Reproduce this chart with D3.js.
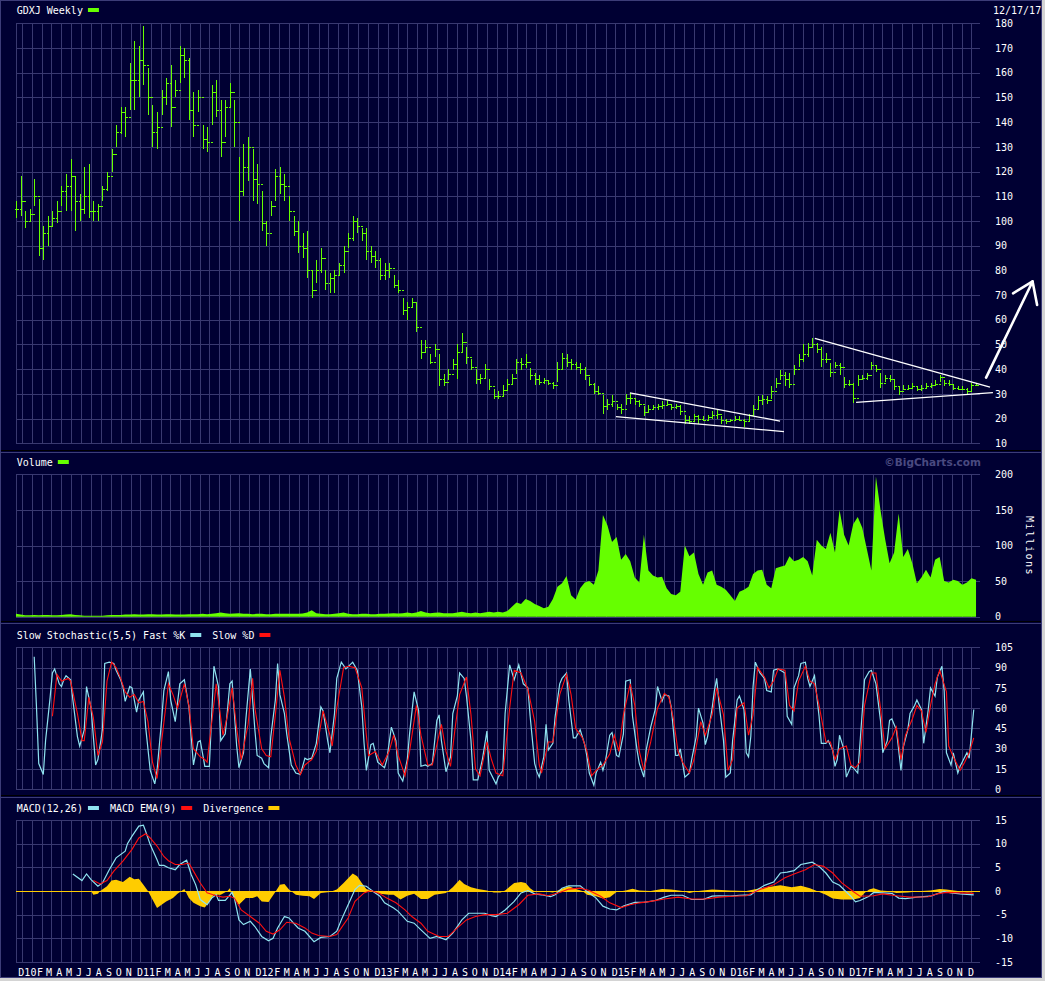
<!DOCTYPE html>
<html>
<head>
<meta charset="utf-8">
<script src="https://cdn.jsdelivr.net/npm/d3@7"></script>
<style>
  body { margin: 0; background: #d4d4d4; }
  svg { display: block; }
  text { font-family: "DejaVu Sans Mono", monospace; font-size: 10px; fill: #ffffff; }
</style>
</head>
<body>
<script>
// biweekly bars, starting week of 11/13/09
const priceHigh = [
  108,118,104,105,117,109,98,102,104,108,
  114,119,125,118,111,122,123,108,107,114,
  120,129,139,146,146,164,173,171,179,162,
  147,144,153,158,163,157,171,170,166,152,
  153,139,138,155,157,149,149,156,149,126,
  131,134,129,123,112,100,108,121,122,119,
  110,102,100,95,96,80,84,89,80,79,
  80,83,90,95,102,101,97,97,90,88,
  85,83,83,78,76,69,67,69,67,52,
  52,46,50,46,38,40,44,50,54.5,49,
  44,40,38,42,36,32,31,33.5,36,38,
  44,44.5,46,40.5,38.5,37.5,36.5,35.5,35,43,
  46.5,46,44,43,42.5,41,37,34.5,33,29.5,
  28,29.5,26,26,30,30.5,28,27.5,25,25.5,
  25.5,26,27,27.5,26,26,25.5,21.5,21,22,
  21.5,21,21.5,23,23.5,21,20,20,21,21,
  20,22,25.5,29,29.5,29,33,36.5,39.5,39,
  38.5,41.5,46,50,50.5,52.5,50.5,49,46.5,42.5,
  43,42.5,37,35.5,34.5,37.5,37.5,38.5,43,41.5,
  38.5,37.5,37.5,35.5,33,33.5,33.5,34.5,33,33.5,
  34.5,34.5,35.5,37.5,35.5,35.5,33.5,33,33,32.5,
  34.5,34.5
];
const priceLow = [
  101,102,97,100,106,86,84,90,98,99,
  106,104,104,96,100,103,101,100,100,108,
  112,120,130,135,134,145,145,150,155,143,
  130,129,143,147,138,150,156,158,141,134,
  144,129,128,139,142,126,134,146,130,100,
  110,116,108,107,96,90,102,108,111,108,
  100,94,87,85,77,69,75,79,72,71,
  71,78,79,89,92,95,92,84,83,81,
  76,76,77,73,71,62,60,65,55,44,
  47,42,45,33,33,35.5,39.5,36,47,42,
  39.5,34,34,36,31.5,28,28,29,31,34,
  38,39.5,40.5,35.5,33.5,33.5,34,33.5,32,35,
  39.5,41,39.5,39.5,38,35.5,33,30,29.5,22,
  23.5,24.5,23.5,22,25.5,26,25.5,24.5,21,22.5,
  23.5,23.5,24,25,23.5,24,21.5,18,18,19,
  18,19,19.5,20,20,18,18,19,19,19,
  16.7,19,21.5,24,25.5,26,28,32.5,35.5,33,
  32.5,37.5,41,43,45,48.5,46.5,41,42.5,37,
  40.5,37.5,32.5,33,26.5,33,35.5,35.5,39.5,39,
  32.5,35,35,31.5,29.5,31.5,31.5,32.5,31,31,
  32.5,32.5,33,35,33,33,31.5,31.5,31.5,30,
  31,33
];
const priceClose = [
  105,108,100,103,110,89,95,98,101,104,
  112,114,118,108,105,110,104,104,106,113,
  118,127,136,144,142,157,157,165,163,150,
  136,138,150,156,146,153,167,165,145,139,
  150,133,132,152,145,132,146,152,140,112,
  122,130,117,115,99,95,106,118,115,114,
  104,96,90,89,80,72,80,85,75,77,
  78,82,88,93,100,98,95,88,86,84,
  78,80,81,74,72,64,65,67,57,47,
  49,43,48,36,35,38,42,47,51,45,
  41,36,36.5,40,33,29,29,31.5,34,36.5,
  43,42,43,37.5,36,35,35.5,34.5,33.5,40,
  44.5,43,42,41,40,37.5,34,31,30.5,25,
  26,27,24.5,24,28.5,28.5,27,26,22.5,24,
  24.5,25,25.5,26,24.5,25,23,19.5,19,21,
  20,19.5,20.5,21.5,22,19.5,19,19.5,20,19.5,
  19,21.5,24,27.5,28,27.5,31,34.5,37.5,36,
  34,40,44,46,49,50,48,44,44,39,
  41.5,41,34,34,28.5,36,36.5,37.5,41.5,40,
  34.5,36.5,36,33,31,32,32.5,33,32,32.5,
  33,33.5,34,37,34.5,34,32.5,32,32,31,
  33.5,33.5
];
// millions of shares, same biweekly steps
const volume = [
  4,3,2,2,2.5,2,2.5,2.5,2,2,
  2.5,3,3.5,2.5,2,1.5,1.5,1.5,1.5,1.5,
  2,2.5,2.5,2.5,3,3,3.5,3,3,3.5,
  3.5,3,3,3.5,3.5,3,3,3,3.5,3.5,
  3.5,4,3.5,4,5,6,5,4,4.5,5,
  4,4,3.5,4,4,3.5,3.5,4,4,4,
  4,4,4,4.5,6,9,5,4,3.5,3.5,
  4,5,6,4,3.5,3.5,4,4,3.5,3.5,
  4,4,4.5,5,4.5,5,6,5,6,8,
  6,5,5.5,6,5,5,5,6,7,5.5,
  5,6,5,6,7,6,7,6,8,14,
  20,18,25,22,18,15,12,14,25,42,
  47,57,30,24,40,48,50,45,65,143,
  128,105,112,80,88,78,55,48,115,65,
  58,55,56,40,32,30,35,100,85,90,
  60,45,62,65,45,42,38,30,22,35,
  38,42,60,65,66,45,40,68,70,72,
  85,78,80,84,78,58,108,100,95,118,
  90,150,115,100,130,140,125,95,65,197,
  150,110,75,90,145,84,95,75,47,55,
  66,55,80,84,50,48,52,50,45,48,
  54,52
];

// [week number, value]
const stochK = [[8,98],[9,61],[10,19],[12,11],[13,36],[15,68],[16,86],[17,89],[19,78],[20,76],[21,81],[22,84],[24,81],[25,66],[27,39],[28,32],[30,44],[31,76],[33,60],[35,18],[36,22],[38,44],[39,93],[41,94],[43,93],[44,88],[46,81],[47,76],[48,65],[50,76],[51,75],[53,57],[54,66],[56,72],[57,46],[59,14],[61,4],[62,14],[64,51],[65,73],[67,87],[68,66],[70,50],[72,78],[74,81],[76,61],[77,39],[78,18],[80,35],[81,36],[83,17],[85,17],[87,91],[89,76],[90,36],[92,41],[94,78],[95,80],[97,32],[98,16],[100,27],[101,51],[103,89],[105,44],[106,25],[108,23],[109,19],[111,16],[112,39],[114,66],[115,93],[116,70],[118,56],[119,41],[121,18],[123,12],[125,11],[127,23],[128,22],[130,23],[132,34],[134,61],[135,58],[137,36],[138,27],[140,56],[141,82],[143,94],[145,89],[148,94],[150,88],[152,61],[153,34],[154,14],[156,33],[157,34],[159,20],[162,16],[163,22],[165,46],[167,36],[168,12],[170,6],[172,22],[173,41],[175,72],[177,58],[178,17],[180,18],[181,17],[183,19],[185,51],[186,55],[187,36],[189,13],[191,24],[192,56],[194,69],[195,86],[197,82],[198,69],[200,36],[201,7],[203,7],[205,22],[207,43],[208,14],[211,4],[212,9],[214,14],[215,56],[217,92],[219,81],[221,92],[223,78],[225,75],[226,54],[228,19],[229,13],[230,9],[232,24],[233,48],[234,29],[236,34],[237,54],[239,78],[240,82],[242,86],[243,66],[245,38],[246,38],[248,44],[250,33],[251,24],[252,12],[254,3],[255,12],[257,20],[258,14],[259,20],[261,40],[262,42],[264,25],[265,24],[267,41],[268,80],[270,81],[271,54],[273,29],[274,19],[276,9],[277,29],[279,46],[281,59],[282,76],[284,65],[285,70],[287,69],[288,61],[290,25],[291,25],[292,30],[294,9],[296,12],[297,22],[299,39],[300,60],[302,49],[303,33],[304,39],[306,60],[307,73],[308,82],[309,64],[311,36],[312,9],[314,12],[315,36],[317,66],[318,69],[320,59],[321,27],[322,24],[323,39],[324,76],[325,94],[327,86],[329,82],[330,73],[332,72],[333,88],[335,89],[336,88],[338,86],[339,54],[341,48],[342,75],[344,84],[345,93],[347,94],[348,82],[349,76],[351,84],[353,54],[354,34],[356,34],[357,36],[359,29],[360,17],[361,22],[362,40],[364,29],[365,9],[367,17],[368,16],[370,12],[371,34],[373,81],[375,87],[376,88],[378,78],[380,51],[381,27],[383,36],[384,51],[385,52],[387,44],[389,14],[390,31],[392,44],[393,56],[395,62],[396,66],[398,59],[399,34],[401,59],[402,75],[404,69],[405,83],[407,91],[408,73],[409,27],[411,18],[412,27],[414,12],[415,17],[418,27],[419,23],[421,59]];
const stochD = [[16,54],[18,85],[20,80],[23,82],[24,80],[27,56],[29,36],[30,36],[32,68],[34,53],[36,25],[38,35],[40,80],[42,94],[44,90],[46,82],[48,72],[50,68],[52,70],[54,64],[56,65],[58,50],[60,20],[62,8],[64,35],[67,78],[69,70],[71,60],[74,78],[76,62],[78,30],[81,24],[83,22],[84,20],[88,78],[91,40],[93,55],[95,75],[97,45],[99,22],[102,48],[104,82],[105,60],[108,30],[110,25],[112,24],[114,55],[116,88],[118,68],[120,38],[123,18],[125,11],[127,18],[130,22],[132,28],[135,58],[138,40],[139,32],[141,60],[144,90],[146,91],[149,90],[152,75],[154,40],[155,25],[158,28],[161,18],[164,28],[166,40],[168,25],[171,10],[173,28],[176,62],[178,40],[181,18],[183,18],[187,48],[189,28],[191,17],[193,45],[195,70],[198,83],[200,55],[202,15],[204,10],[207,35],[209,22],[211,12],[214,10],[217,60],[219,88],[222,86],[225,74],[228,50],[230,18],[231,12],[234,35],[236,35],[239,70],[242,85],[244,70],[246,45],[249,38],[251,28],[253,10],[255,14],[258,18],[261,26],[263,40],[265,28],[267,55],[270,78],[272,62],[274,28],[276,14],[279,35],[282,60],[285,71],[287,68],[289,52],[291,28],[293,20],[296,12],[298,22],[301,50],[303,40],[306,55],[308,75],[311,55],[313,14],[315,22],[317,60],[320,64],[322,40],[324,55],[326,90],[329,83],[331,75],[333,80],[335,89],[338,88],[340,62],[342,58],[344,80],[347,91],[349,80],[351,78],[353,62],[356,35],[358,35],[360,22],[362,30],[365,32],[367,18],[369,16],[371,20],[373,62],[376,86],[378,86],[380,60],[382,30],[385,38],[387,46],[389,22],[391,40],[394,52],[396,62],[398,58],[400,42],[402,62],[404,78],[406,88],[409,72],[410,32],[412,24],[415,14],[417,20],[419,27],[421,38]];

const macdLine = [[25,3.6],[29,2.2],[31,3.6],[33,2.4],[36,1.0],[38,1.7],[41,4.5],[44,7.0],[48,8.4],[49,10.0],[51,11.6],[54,13.7],[56,13.9],[57,12.6],[59,9.8],[62,6.6],[63,5.4],[65,5.4],[67,4.9],[70,4.5],[72,5.6],[75,6.5],[77,3.5],[79,1.3],[81,-1.8],[84,-2.9],[86,-1.5],[88,-0.8],[89,-2.0],[92,-2.0],[95,-0.3],[96,-1.5],[98,-6.1],[100,-7.1],[103,-6.4],[105,-7.5],[108,-9.6],[111,-10.5],[113,-10.0],[115,-7.8],[118,-5.4],[120,-5.7],[122,-6.8],[124,-7.8],[127,-8.5],[131,-10.7],[134,-9.8],[138,-9.6],[141,-8.5],[143,-6.1],[146,-2.9],[149,0.3],[151,1.2],[154,1.0],[157,-0.1],[160,-1.1],[162,-2.5],[166,-3.6],[168,-4.3],[172,-6.4],[175,-6.8],[178,-8.2],[182,-10.0],[185,-9.6],[189,-10.3],[192,-8.9],[196,-6.1],[199,-4.7],[203,-4.7],[206,-4.7],[209,-5.2],[211,-5.4],[215,-4.0],[219,-2.2],[222,-0.4],[225,0.1],[228,-0.6],[231,-0.8],[235,-1.2],[237,-0.8],[240,0.6],[243,1.1],[248,1.1],[251,-0.1],[255,-1.5],[258,-3.2],[261,-3.8],[264,-4.0],[267,-3.2],[272,-2.4],[276,-2.4],[281,-2.0],[285,-1.3],[288,-0.9],[293,-0.9],[297,-1.8],[302,-1.8],[306,-1.1],[309,-1.0],[314,-1.1],[318,-0.9],[323,-0.8],[326,0.3],[329,1.2],[333,1.9],[336,3.8],[339,4.0],[342,4.3],[345,5.6],[348,5.9],[350,6.1],[353,5.2],[356,3.8],[359,1.9],[362,1.2],[365,-0.2],[367,-1.1],[369,-2.3],[371,-2.0],[375,-1.1],[377,-0.3],[381,-0.4],[385,-0.5],[388,-1.5],[391,-1.6],[396,-1.3],[402,-1.1],[406,-0.4],[408,-0.1],[411,-0.4],[415,-0.6],[421,-0.8]];
const macdSignal = [[34,2.2],[37,1.5],[40,2.2],[43,4.2],[47,6.3],[51,8.8],[54,11.2],[57,12.1],[59,11.2],[62,9.5],[65,7.3],[67,6.4],[70,5.6],[73,5.6],[76,5.9],[78,4.2],[81,1.7],[84,-0.4],[88,-1.0],[91,-1.3],[94,-1.1],[96,-1.5],[99,-4.0],[103,-5.4],[107,-6.8],[110,-8.5],[113,-9.1],[116,-8.2],[119,-6.6],[123,-6.8],[127,-7.8],[130,-8.9],[133,-9.4],[138,-9.6],[141,-9.2],[143,-7.8],[146,-5.7],[149,-2.2],[153,-0.4],[156,0.1],[160,-0.6],[163,-1.5],[167,-2.5],[171,-4.0],[174,-5.4],[178,-6.8],[181,-8.5],[186,-9.6],[190,-9.6],[194,-7.8],[198,-6.1],[202,-5.4],[206,-5.0],[211,-5.0],[216,-4.7],[221,-2.9],[225,-0.9],[230,-0.6],[234,-1.0],[239,-0.3],[243,0.4],[248,0.6],[252,0.1],[257,-1.1],[261,-2.5],[266,-3.5],[270,-2.9],[274,-2.5],[279,-2.2],[285,-1.7],[291,-1.3],[297,-1.7],[303,-1.7],[309,-1.3],[315,-1.1],[321,-1.0],[327,0.3],[333,1.3],[338,2.8],[342,3.6],[347,4.5],[351,5.6],[355,5.2],[359,3.8],[363,1.7],[368,-0.1],[371,-1.1],[377,-1.0],[381,-0.6],[387,-1.0],[393,-1.3],[401,-1.2],[405,-0.6],[409,-0.3],[415,-0.4],[421,-0.5]];
const macdDivergence = [[33,0],[34,-0.8],[36,-0.6],[37,0],[40,1.0],[42,2.2],[44,2.4],[47,1.9],[50,3.0],[52,2.5],[54,2.6],[56,1.3],[58,0],[60,-1.8],[62,-3.6],[64,-2.9],[66,-2.2],[69,-1.5],[71,-0.6],[74,0.4],[76,-1.5],[78,-2.5],[81,-3.2],[83,-3.5],[85,-2.2],[87,-0.8],[90,-0.8],[93,0],[94,0.6],[95,-0.8],[98,-2.9],[101,-1.5],[104,-1.5],[106,-1.1],[108,-2.2],[111,-2.3],[114,-0.2],[116,1.3],[118,1.5],[120,0.3],[123,-0.8],[126,-1.0],[129,-1.1],[131,-1.7],[134,-0.4],[138,-0.2],[141,0.3],[144,1.7],[148,3.7],[150,3.1],[152,1.7],[154,0.4],[157,-0.1],[160,-0.6],[164,-0.8],[166,-0.8],[169,-1.8],[172,-1.0],[175,-0.6],[178,-1.7],[181,-1.7],[184,-0.8],[187,-0.6],[189,-0.4],[192,0.8],[195,2.4],[197,1.5],[200,0.8],[203,0.4],[207,0.1],[210,-0.3],[213,-0.3],[215,0.1],[219,1.7],[222,1.9],[224,1.7],[226,0.6],[228,-0.1],[232,0],[236,-0.3],[240,0.5],[243,1.0],[246,0.4],[249,0],[251,-0.8],[255,-1.1],[258,-1.6],[261,-1.3],[264,-0.2],[268,0.1],[271,0.5],[274,0.1],[279,0],[284,0.4],[288,0.3],[293,0],[296,-0.4],[300,0],[306,0.3],[314,0.1],[321,0],[326,0.5],[330,0.8],[336,1.2],[341,0.8],[345,1.1],[349,0.6],[352,0],[356,-0.8],[359,-1.6],[363,-1.8],[368,-1.8],[371,-1.5],[373,-0.4],[375,0.3],[377,0.6],[380,0.1],[383,0],[387,-0.4],[392,-0.3],[398,0],[402,0.1],[406,0.4],[409,0.3],[414,0],[418,-0.3],[421,-0.2]];

const priceTicks = [10,20,30,40,50,60,70,80,90,100,110,120,130,140,150,160,170,180];
const volTicks = [0,50,100,150,200];
const stochTicks = [0,15,30,45,60,75,90,105];
const macdTicks = [-15,-10,-5,0,5,10,15];
const monthLetters = ["", "F", "M", "A", "M", "J", "J", "A", "S", "O", "N", "D"];
const yearLabels = ["D10", "D11", "D12", "D13", "D14", "D15", "D16", "D17", "D"];

// hand drawn trend lines and arrow: [date, price]
const wedgeTop = [["2015-01-15", 30.4], ["2016-04-21", 19.0]];
const wedgeBottom = [["2014-12-03", 20.8], ["2016-05-03", 14.7]];
const triangleTop = [["2016-08-06", 52.5], ["2018-01-27", 32.7]];
const triangleBottom = [["2016-12-11", 26.6], ["2018-02-05", 30.5]];
const arrowShaft = [["2018-01-15", 36.6], ["2018-06-07", 75.5]];
const arrowHead = [["2018-04-08", 70.7], ["2018-06-07", 75.5], ["2018-06-21", 66.0]];

const left = 16, right = 980;
const t0 = new Date(2009, 10, 13);
const weekDate = w => d3.timeDay.offset(t0, w * 7);
const parse = d3.timeParse("%Y-%m-%d");

const x = d3.scaleTime().domain([t0, new Date(2017, 11, 18)]).range([16, 977]);
const yPrice = d3.scaleLinear().domain([10, 180]).range([443.3, 23.3]);
const yVol = d3.scaleLinear().domain([0, 200]).range([616.7, 474.3]);
const yStoch = d3.scaleLinear().domain([0, 105]).range([789.3, 647.3]);
const yMacd = d3.scaleLinear().domain([-15, 15]).range([962, 820]);

const crisp = v => Math.round(v) + 0.5;

const svg = d3.select("body").append("svg").attr("width", 1045).attr("height", 981);

svg.append("rect")
  .attr("x", 0.5).attr("y", 0.5).attr("width", 1041).attr("height", 977)
  .attr("fill", "#000033").attr("stroke", "#3c3c78");

// panel separators
[450.5, 621.5, 795.5].forEach(s => {
  svg.append("line").attr("x1", 1).attr("x2", 1041).attr("y1", s).attr("y2", s).attr("stroke", "#000000");
  svg.append("line").attr("x1", 1).attr("x2", 1041).attr("y1", s + 2).attr("y2", s + 2).attr("stroke", "#3c3c78");
});

const months = d3.timeMonth.range(new Date(2009, 11, 1), new Date(2018, 0, 1));

function grid(y, ticks) {
  const [bot, top] = y.range();
  const g = svg.append("g").attr("stroke", "#393970").attr("shape-rendering", "crispEdges");
  g.selectAll(".v").data([left].concat(months.map(m => x(m)))).join("line")
    .attr("class", "v")
    .attr("x1", d => crisp(d)).attr("x2", d => crisp(d))
    .attr("y1", crisp(top)).attr("y2", crisp(bot));
  g.selectAll(".h").data(ticks).join("line")
    .attr("class", "h")
    .attr("x1", left).attr("x2", right)
    .attr("y1", d => crisp(y(d))).attr("y2", d => crisp(y(d)));

  svg.append("g").attr("transform", "translate(995,0)")
    .call(d3.axisRight(y).tickValues(ticks).tickSize(0).tickPadding(0).tickFormat(d => String(d)))
    .call(a => a.select(".domain").remove());
}

grid(yPrice, priceTicks);
grid(yVol, volTicks);
grid(yStoch, stochTicks);
grid(yMacd, macdTicks);

function legend(base, items) {
  let cx = 16.7;
  items.forEach(it => {
    const t = svg.append("text").attr("x", cx).attr("y", base).text(it.label);
    cx += t.node().getComputedTextLength();
    if (it.color) {
      svg.append("rect").attr("x", cx + 5).attr("y", base - 5.5)
        .attr("width", 11).attr("height", 4).attr("fill", it.color);
      cx += 27;
    }
  });
}

const green = "#66ff00", cyan = "#8fe3f0", red = "#ff1010", gold = "#ffcc00";

legend(13.5, [{ label: "GDXJ Weekly", color: green }]);
legend(465.5, [{ label: "Volume", color: green }]);
legend(638.5, [{ label: "Slow Stochastic(5,5) Fast %K", color: cyan }, { label: "Slow %D", color: red }]);
legend(811.5, [{ label: "MACD(12,26)", color: cyan }, { label: "MACD EMA(9)", color: red }, { label: "Divergence", color: gold }]);

svg.append("text").attr("x", 993).attr("y", 13.5).text("12/17/17");

svg.append("text").attr("x", 981).attr("y", 466).attr("text-anchor", "end")
  .style("font-family", "'DejaVu Sans', sans-serif").style("font-weight", "bold")
  .style("font-size", "10.5px").style("fill", "#4a4a80").text("\u00a9BigCharts.com");

svg.append("text").attr("transform", "translate(1026,546) rotate(90)")
  .attr("text-anchor", "middle").style("letter-spacing", "1.5px").text("Millions");

// bottom month labels
let yi = 0;
months.forEach(m => {
  const mi = m.getMonth();
  if (mi === 0) return;
  if (mi === 11) {
    svg.append("text").attr("x", x(m) - 3.5).attr("y", 976).text(yearLabels[yi++]);
  } else {
    svg.append("text").attr("x", x(m) - 2).attr("y", 976).attr("text-anchor", "middle").text(monthLetters[mi]);
  }
});

// price bars (open tick = prior close)
svg.append("g").attr("stroke", green).attr("fill", "none").attr("shape-rendering", "crispEdges")
  .selectAll("path").data(priceClose).join("path")
  .attr("d", (c, i) => {
    const px = crisp(x(weekDate(2 * i)));
    const o = i ? priceClose[i - 1] : c;
    return `M${px},${yPrice(priceHigh[i])}V${yPrice(priceLow[i])}` +
      `M${px - 2},${crisp(yPrice(o))}H${px}M${px},${crisp(yPrice(c))}H${px + 2}`;
  });

// volume as filled area
svg.append("path").datum(volume).attr("fill", green)
  .attr("d", d3.area()
    .x((v, i) => x(weekDate(2 * i)))
    .y0(yVol(0))
    .y1(v => yVol(v)));

// stochastic
const wx = d => x(weekDate(d[0]));
svg.append("path").datum(stochK).attr("fill", "none").attr("stroke", cyan).attr("stroke-width", 1.2)
  .attr("d", d3.line().x(wx).y(d => yStoch(d[1])));
svg.append("path").datum(stochD).attr("fill", "none").attr("stroke", red).attr("stroke-width", 1.1)
  .attr("d", d3.line().x(wx).y(d => yStoch(d[1])));

// MACD
svg.append("path").datum(macdDivergence).attr("fill", gold)
  .attr("d", d3.area().x(wx).y0(yMacd(0)).y1(d => yMacd(d[1])));
svg.append("line").attr("x1", left).attr("x2", right)
  .attr("y1", crisp(yMacd(0))).attr("y2", crisp(yMacd(0))).attr("stroke", gold);
svg.append("path").datum(macdLine).attr("fill", "none").attr("stroke", cyan).attr("stroke-width", 1.2)
  .attr("d", d3.line().x(wx).y(d => yMacd(d[1])));
svg.append("path").datum(macdSignal).attr("fill", "none").attr("stroke", red).attr("stroke-width", 1.1)
  .attr("d", d3.line().x(wx).y(d => yMacd(d[1])));

// annotations
const annLine = d3.line().x(d => x(parse(d[0]))).y(d => yPrice(d[1]));
[wedgeTop, wedgeBottom, triangleTop, triangleBottom].forEach(l => {
  svg.append("path").attr("d", annLine(l)).attr("stroke", "#ffffff").attr("stroke-width", 1.3).attr("fill", "none");
});
[arrowShaft, arrowHead].forEach(l => {
  svg.append("path").attr("d", annLine(l)).attr("stroke", "#ffffff").attr("stroke-width", 2.6)
    .attr("fill", "none").attr("stroke-linecap", "round").attr("stroke-linejoin", "round");
});
</script>
</body>
</html>
